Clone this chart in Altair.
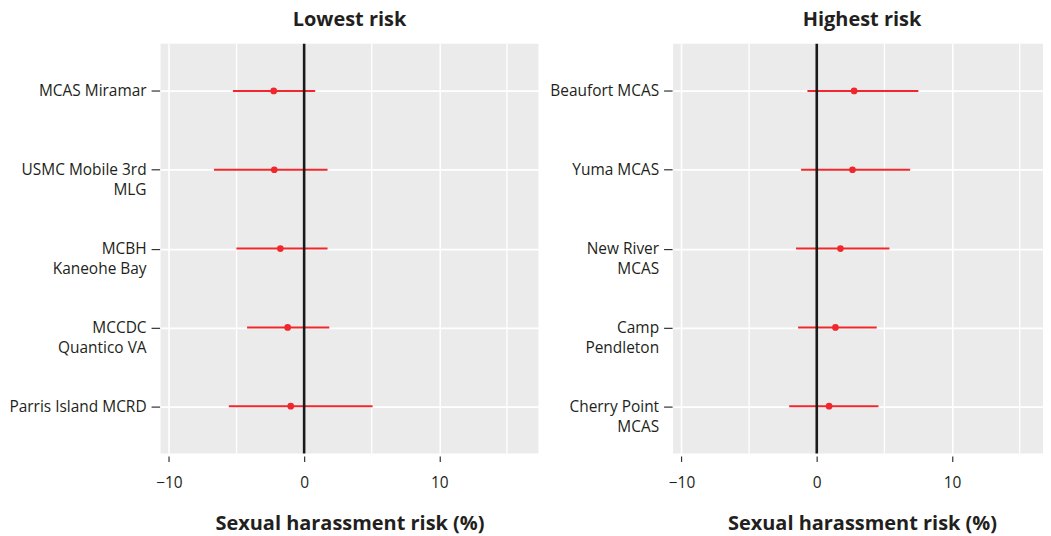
import altair as alt
import pandas as pd

# ---- data ----
low_sites = ["MCAS Miramar", "USMC Mobile 3rd\nMLG", "MCBH\nKaneohe Bay",
             "MCCDC\nQuantico VA", "Parris Island MCRD"]
low_est = [-2.25, -2.21, -1.76, -1.22, -0.99]
low_lo = [-5.27, -6.67, -5.01, -4.22, -5.57]
low_hi = [0.82, 1.73, 1.73, 1.86, 5.06]

high_sites = ["Beaufort MCAS", "Yuma MCAS", "New River\nMCAS",
              "Camp\nPendleton", "Cherry Point\nMCAS"]
high_est = [2.76, 2.64, 1.75, 1.38, 0.91]
high_lo = [-0.69, -1.16, -1.53, -1.38, -2.04]
high_hi = [7.51, 6.90, 5.37, 4.43, 4.56]

major_ticks = [-10, 0, 10]
minor_ticks = [-5, 5, 15]
zero_line = [0]

FONT = "Open Sans"
TXT = "#231F20"
RED = "#F0282D"
XMIN = -10.62
LBL = 15.5


def panel(title, sites, est, lo, hi, xmax, width):
    df = pd.DataFrame({"site": sites, "est": est, "lo": lo, "hi": hi})
    xscale = alt.Scale(domain=[XMIN, xmax], nice=False, zero=False)
    yscale = alt.Scale(type="point", domain=sites, padding=0.6)
    xaxis = alt.Axis(
        values=major_ticks, title="Sexual harassment risk (%)",
        grid=True, gridColor="white", gridWidth=1.6,
        domain=False, ticks=True, tickColor="#333333", tickWidth=1.2,
        tickSize=5.5, offset=2.5, labelPadding=21.5, labelBaseline="middle",
        labelFont=FONT, labelFontSize=LBL, labelColor=TXT,
        titleFont=FONT, titleFontSize=20, titleFontWeight="bold",
        titleColor=TXT, titleBaseline="alphabetic", titleY=73.5,
        titleX=189.5,
    )
    yaxis = alt.Axis(
        title=None, grid=True, gridColor="white", gridWidth=1.8,
        domain=False, ticks=True, tickColor="#333333", tickWidth=1.2,
        tickSize=8.5, offset=1, labelPadding=5,
        labelFont=FONT, labelFontSize=LBL, labelColor=TXT,
        labelBaseline="middle", labelLineHeight=20, labelOffset=0,
        labelLimit=300,
        labelExpr="split(datum.label, '\\n')",
    )
    xenc = lambda f: alt.X(f, scale=xscale, axis=xaxis)

    minor = alt.Chart(pd.DataFrame({"v": minor_ticks})).mark_rule(
        color="white", strokeWidth=1.3
    ).encode(x=xenc("v:Q"))

    bars = alt.Chart(df).mark_rule(color=RED, strokeWidth=2).encode(
        x=xenc("lo:Q"), x2="hi:Q",
        y=alt.Y("site:N", scale=yscale, axis=yaxis, sort=sites),
    )
    pts = alt.Chart(df).mark_circle(color=RED, size=45, opacity=1).encode(
        x=xenc("est:Q"),
        y=alt.Y("site:N", scale=yscale, axis=yaxis, sort=sites),
    )
    zero = alt.Chart(pd.DataFrame({"z": zero_line})).mark_rule(
        color="#1a1a1a", strokeWidth=2.6
    ).encode(x=xenc("z:Q"))

    return alt.layer(minor, bars, pts, zero).properties(
        width=width, height=411,
        title=alt.TitleParams(
            title, font=FONT, fontSize=20, fontWeight="bold", color=TXT,
            anchor="start", frame="group", align="center", dx=189.5,
            baseline="alphabetic", offset=-4,
        ),
    )


left = panel("Lowest risk", low_sites, low_est, low_lo, low_hi, 17.33, 379)
right = panel("Highest risk", high_sites, high_est, high_lo, high_hi, 16.72, 371)

chart = alt.hconcat(left, right, spacing=135, bounds="flush").properties(
    padding={"left": 0, "top": 1, "right": 0, "bottom": 4}
).configure_view(fill="#EBEBEB", stroke=None)

chart.save("out.html", embed_options={"renderer": "svg", "actions": False})
